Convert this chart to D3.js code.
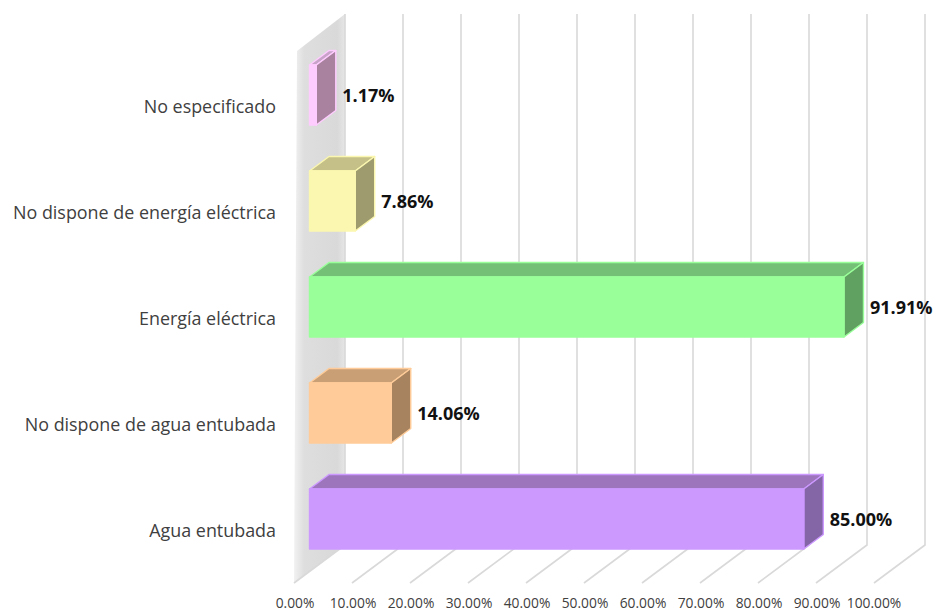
<!DOCTYPE html>
<html><head><meta charset="utf-8">
<script src="https://cdn.jsdelivr.net/npm/d3@7"></script>
<style>html,body{margin:0;background:#fff}svg{display:block}text{font-family:"Open Sans",sans-serif}</style>
</head><body><svg id="c" width="934" height="612"></svg>
<script>
const categories=["No especificado","No dispone de energía eléctrica","Energía eléctrica","No dispone de agua entubada","Agua entubada"];
const values=[1.17,7.86,91.91,14.06,85.00];
const frontColors=["#ffccff","#fbf7b0","#99ff99","#ffcc99","#cc99ff"];
const topColors=["#c9a3c9","#c4c088","#75c077","#c99f76","#9d75bd"];
const sideColors=["#a9829f","#9e9b6e","#60a060","#a78360","#8465a5"];
const ticks=[0,10,20,30,40,50,60,70,80,90,100];

const svg=d3.select("#c");
const xBack=d3.scaleLinear([0,100],[345,925]);
const xFloor=d3.scaleLinear([0,100],[294,874]);
const xBar=d3.scaleLinear([0,100],[309.5,891]);
const yBand=d3.scaleBand(categories,[65,549]).paddingInner(0.434).paddingOuter(0);
const yTop=14,yBack=545,yFloor=583,dx=19.5,dy=14.5;

const defs=svg.append("defs");
const grad=defs.append("linearGradient").attr("id","wall").attr("x1",0).attr("x2",1).attr("y1",0).attr("y2",0);
grad.append("stop").attr("offset","0").attr("stop-color","#f2f2f2");
grad.append("stop").attr("offset","0.2").attr("stop-color","#dedede");
grad.append("stop").attr("offset","0.85").attr("stop-color","#d9d9d9");
grad.append("stop").attr("offset","1").attr("stop-color","#e6e6e6");
svg.append("path").attr("fill","url(#wall)")
 .attr("d",`M${xFloor(0)+3},${yTop+37}L${xBack(0)},${yTop}L${xBack(0)},${yBack}L${xFloor(0)},${yFloor}Z`);

const g=svg.append("g").attr("stroke","#d9d9d9").attr("fill","none").attr("stroke-width",1.6);
ticks.forEach(t=>{
 g.append("path").attr("d",`M${xBack(t)},${yTop}L${xBack(t)},${yBack}L${xFloor(t)},${yFloor}`);
});

categories.forEach((c,i)=>{
 const x0=xBar(0),x1=xBar(values[i]);
 const h=yBand.bandwidth(),y0=yBand(c),y1=y0+h;
 const bar=svg.append("g").attr("stroke",frontColors[i]).attr("stroke-width",1.4).attr("stroke-linejoin","round");
 bar.append("path").attr("fill",topColors[i])
  .attr("d",`M${x0},${y0}L${x0+dx},${y0-dy}L${x1+dx},${y0-dy}L${x1},${y0}Z`);
 bar.append("path").attr("fill",sideColors[i])
  .attr("d",`M${x1},${y0}L${x1+dx},${y0-dy}L${x1+dx},${y1-dy}L${x1},${y1}Z`);
 bar.append("rect").attr("fill",frontColors[i]).attr("x",x0).attr("y",y0).attr("width",x1-x0).attr("height",h);
 svg.append("text").attr("x",x1+dx+6.5).attr("y",y0+h/2+1).attr("dy","0.35em")
  .attr("font-size",18).attr("font-weight",700).attr("fill","#111")
  .text(values[i].toFixed(2)+"%");
 svg.append("text").attr("x",276).attr("y",y0+h/2+12).attr("dy","0.35em").attr("text-anchor","end")
  .attr("font-size",17.9).attr("fill","#404040").text(c);
});
ticks.forEach(t=>{
 svg.append("text").attr("x",xFloor(t)+(t==100?0:1)).attr("y",603).attr("dy","0.35em").attr("text-anchor","middle")
  .attr("font-size",13.8).attr("fill","#404040").text(t.toFixed(2)+"%");
});
</script></body></html>
